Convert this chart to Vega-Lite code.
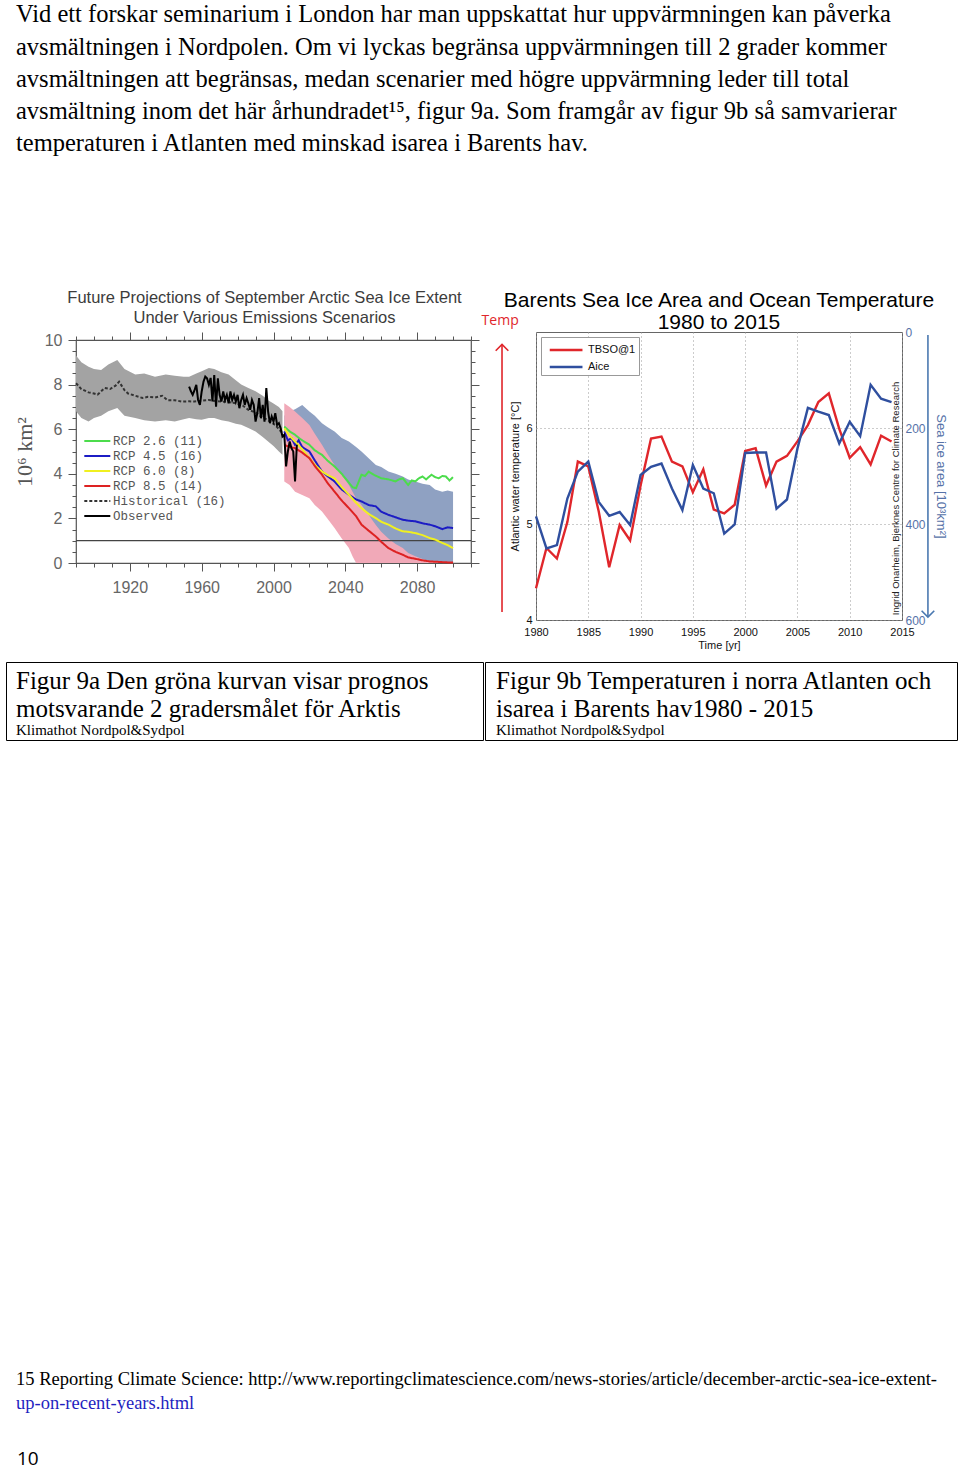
{
  "$schema": "https://vega.github.io/schema/vega-lite/v6.json",
  "background": "white",
  "padding": {"left": 5, "top": 2, "right": 0, "bottom": 0},
  "spacing": 10,
  "config": {"view": {"stroke": null}, "font": "Liberation Sans", "title": {"fontWeight": "normal"}},
  "datasets": {
    "bandHist": [
      {"year":1890,"lo":6.8,"hi":9.3},{"year":1893,"lo":6.5,"hi":9.0},{"year":1897,"lo":6.35,"hi":8.8},{"year":1900,"lo":6.5,"hi":8.7},{"year":1904,"lo":6.6,"hi":8.65},{"year":1908,"lo":6.8,"hi":8.9},{"year":1913,"lo":6.95,"hi":9.1},{"year":1917,"lo":6.6,"hi":8.7},{"year":1923,"lo":6.5,"hi":8.45},{"year":1928,"lo":6.4,"hi":8.5},{"year":1934,"lo":6.35,"hi":8.35},{"year":1940,"lo":6.4,"hi":8.45},{"year":1945,"lo":6.35,"hi":8.4},{"year":1950,"lo":6.45,"hi":8.35},{"year":1953,"lo":6.5,"hi":8.35},{"year":1957,"lo":6.45,"hi":8.5},{"year":1960,"lo":6.42,"hi":8.6},{"year":1964,"lo":6.5,"hi":8.75},{"year":1967,"lo":6.5,"hi":8.7},{"year":1971,"lo":6.4,"hi":8.55},{"year":1975,"lo":6.35,"hi":8.45},{"year":1979,"lo":6.25,"hi":8.2},{"year":1982,"lo":6.2,"hi":8.0},{"year":1986,"lo":6.05,"hi":7.85},{"year":1990,"lo":5.9,"hi":7.7},{"year":1994,"lo":5.65,"hi":7.5},{"year":1997,"lo":5.45,"hi":7.3},{"year":2000,"lo":5.25,"hi":7.15},{"year":2003,"lo":5.0,"hi":7.0},{"year":2005,"lo":4.85,"hi":6.8}
    ],
    "bandRcp45": [
      {"year":2006,"lo":5.0,"hi":6.6},{"year":2009,"lo":5.1,"hi":6.8},{"year":2012,"lo":5.2,"hi":6.9},{"year":2016,"lo":5.45,"hi":7.09},{"year":2020,"lo":5.1,"hi":6.79},{"year":2023,"lo":4.8,"hi":6.6},{"year":2027,"lo":4.4,"hi":6.27},{"year":2030,"lo":3.95,"hi":6.1},{"year":2034,"lo":3.5,"hi":5.9},{"year":2038,"lo":3.1,"hi":5.6},{"year":2042,"lo":2.76,"hi":5.45},{"year":2046,"lo":2.4,"hi":5.2},{"year":2049,"lo":2.0,"hi":5.0},{"year":2053,"lo":1.6,"hi":4.7},{"year":2057,"lo":1.27,"hi":4.4},{"year":2060,"lo":0.95,"hi":4.3},{"year":2064,"lo":0.67,"hi":4.1},{"year":2068,"lo":0.45,"hi":4.0},{"year":2072,"lo":0.22,"hi":3.88},{"year":2075,"lo":0.1,"hi":3.75},{"year":2079,"lo":0,"hi":3.66},{"year":2083,"lo":0,"hi":3.55},{"year":2087,"lo":0,"hi":3.5},{"year":2090,"lo":0,"hi":3.3},{"year":2094,"lo":0,"hi":3.2},{"year":2097,"lo":0,"hi":3.25},{"year":2100,"lo":0,"hi":3.2}
    ],
    "bandRcp85": [
      {"year":2006,"lo":3.66,"hi":7.16},{"year":2009,"lo":3.5,"hi":7.0},{"year":2012,"lo":3.2,"hi":6.79},{"year":2016,"lo":3.05,"hi":6.5},{"year":2020,"lo":2.9,"hi":6.19},{"year":2023,"lo":2.6,"hi":5.8},{"year":2027,"lo":2.31,"hi":5.3},{"year":2030,"lo":2.0,"hi":4.9},{"year":2034,"lo":1.57,"hi":4.4},{"year":2038,"lo":1.1,"hi":3.95},{"year":2042,"lo":0.67,"hi":3.5},{"year":2044,"lo":0.3,"hi":3.2},{"year":2046,"lo":0,"hi":2.9},{"year":2049,"lo":0,"hi":2.6},{"year":2053,"lo":0,"hi":2.15},{"year":2057,"lo":0,"hi":1.7},{"year":2060,"lo":0,"hi":1.4},{"year":2064,"lo":0,"hi":1.1},{"year":2068,"lo":0,"hi":0.85},{"year":2072,"lo":0,"hi":0.67},{"year":2075,"lo":0,"hi":0.45},{"year":2079,"lo":0,"hi":0.3},{"year":2083,"lo":0,"hi":0.18},{"year":2087,"lo":0,"hi":0.07},{"year":2092,"lo":0,"hi":0.03},{"year":2100,"lo":0,"hi":0.0}
    ],
    "iceLines": [
      {"series":"Historical (16)","year":1890,"value":8.06},{"series":"Historical (16)","year":1893,"value":7.8},{"series":"Historical (16)","year":1897,"value":7.65},{"series":"Historical (16)","year":1900,"value":7.6},{"series":"Historical (16)","year":1902,"value":7.55},{"series":"Historical (16)","year":1906,"value":7.85},{"series":"Historical (16)","year":1909,"value":7.8},{"series":"Historical (16)","year":1912,"value":7.95},{"series":"Historical (16)","year":1914,"value":8.13},{"series":"Historical (16)","year":1917,"value":7.75},{"series":"Historical (16)","year":1919,"value":7.6},{"series":"Historical (16)","year":1923,"value":7.5},{"series":"Historical (16)","year":1927,"value":7.4},{"series":"Historical (16)","year":1930,"value":7.45},{"series":"Historical (16)","year":1934,"value":7.42},{"series":"Historical (16)","year":1938,"value":7.5},{"series":"Historical (16)","year":1941,"value":7.3},{"series":"Historical (16)","year":1945,"value":7.3},{"series":"Historical (16)","year":1949,"value":7.24},{"series":"Historical (16)","year":1953,"value":7.25},{"series":"Historical (16)","year":1956,"value":7.24},{"series":"Historical (16)","year":1960,"value":7.28},{"series":"Historical (16)","year":1964,"value":7.31},{"series":"Historical (16)","year":1968,"value":7.26},{"series":"Historical (16)","year":1971,"value":7.24},{"series":"Historical (16)","year":1975,"value":7.22},{"series":"Historical (16)","year":1979,"value":7.16},{"series":"Historical (16)","year":1983,"value":7.05},{"series":"Historical (16)","year":1986,"value":6.87},{"series":"Historical (16)","year":1990,"value":6.75},{"series":"Historical (16)","year":1993,"value":6.57},{"series":"Historical (16)","year":1997,"value":6.4},{"series":"Historical (16)","year":2001,"value":6.19},{"series":"Historical (16)","year":2005,"value":5.82},
      {"series":"RCP 2.6 (11)","year":2006,"value":6.12},{"series":"RCP 2.6 (11)","year":2009,"value":5.9},{"series":"RCP 2.6 (11)","year":2012,"value":5.75},{"series":"RCP 2.6 (11)","year":2015,"value":5.55},{"series":"RCP 2.6 (11)","year":2018,"value":5.4},{"series":"RCP 2.6 (11)","year":2020,"value":5.3},{"series":"RCP 2.6 (11)","year":2023,"value":5.05},{"series":"RCP 2.6 (11)","year":2027,"value":4.85},{"series":"RCP 2.6 (11)","year":2030,"value":4.6},{"series":"RCP 2.6 (11)","year":2034,"value":4.33},{"series":"RCP 2.6 (11)","year":2038,"value":4.0},{"series":"RCP 2.6 (11)","year":2042,"value":3.6},{"series":"RCP 2.6 (11)","year":2044,"value":3.4},{"series":"RCP 2.6 (11)","year":2046,"value":3.36},{"series":"RCP 2.6 (11)","year":2049,"value":3.96},{"series":"RCP 2.6 (11)","year":2051,"value":3.9},{"series":"RCP 2.6 (11)","year":2053,"value":4.1},{"series":"RCP 2.6 (11)","year":2056,"value":3.95},{"series":"RCP 2.6 (11)","year":2060,"value":3.8},{"series":"RCP 2.6 (11)","year":2064,"value":3.75},{"series":"RCP 2.6 (11)","year":2068,"value":3.66},{"series":"RCP 2.6 (11)","year":2070,"value":3.75},{"series":"RCP 2.6 (11)","year":2072,"value":3.8},{"series":"RCP 2.6 (11)","year":2075,"value":3.5},{"series":"RCP 2.6 (11)","year":2077,"value":3.7},{"series":"RCP 2.6 (11)","year":2079,"value":3.66},{"series":"RCP 2.6 (11)","year":2081,"value":3.8},{"series":"RCP 2.6 (11)","year":2083,"value":3.88},{"series":"RCP 2.6 (11)","year":2085,"value":3.75},{"series":"RCP 2.6 (11)","year":2088,"value":3.96},{"series":"RCP 2.6 (11)","year":2090,"value":3.85},{"series":"RCP 2.6 (11)","year":2092,"value":3.8},{"series":"RCP 2.6 (11)","year":2094,"value":3.9},{"series":"RCP 2.6 (11)","year":2096,"value":3.88},{"series":"RCP 2.6 (11)","year":2098,"value":3.7},{"series":"RCP 2.6 (11)","year":2100,"value":3.85},
      {"series":"RCP 4.5 (16)","year":2006,"value":5.9},{"series":"RCP 4.5 (16)","year":2008,"value":5.5},{"series":"RCP 4.5 (16)","year":2010,"value":5.6},{"series":"RCP 4.5 (16)","year":2012,"value":5.3},{"series":"RCP 4.5 (16)","year":2014,"value":5.5},{"series":"RCP 4.5 (16)","year":2016,"value":5.2},{"series":"RCP 4.5 (16)","year":2020,"value":5.0},{"series":"RCP 4.5 (16)","year":2023,"value":4.6},{"series":"RCP 4.5 (16)","year":2027,"value":4.1},{"series":"RCP 4.5 (16)","year":2030,"value":3.9},{"series":"RCP 4.5 (16)","year":2034,"value":3.66},{"series":"RCP 4.5 (16)","year":2038,"value":3.3},{"series":"RCP 4.5 (16)","year":2042,"value":3.06},{"series":"RCP 4.5 (16)","year":2046,"value":2.85},{"series":"RCP 4.5 (16)","year":2049,"value":2.76},{"series":"RCP 4.5 (16)","year":2053,"value":2.6},{"series":"RCP 4.5 (16)","year":2057,"value":2.54},{"series":"RCP 4.5 (16)","year":2060,"value":2.3},{"series":"RCP 4.5 (16)","year":2064,"value":2.16},{"series":"RCP 4.5 (16)","year":2068,"value":2.05},{"series":"RCP 4.5 (16)","year":2072,"value":1.94},{"series":"RCP 4.5 (16)","year":2075,"value":1.9},{"series":"RCP 4.5 (16)","year":2079,"value":1.87},{"series":"RCP 4.5 (16)","year":2083,"value":1.78},{"series":"RCP 4.5 (16)","year":2087,"value":1.72},{"series":"RCP 4.5 (16)","year":2090,"value":1.65},{"series":"RCP 4.5 (16)","year":2094,"value":1.52},{"series":"RCP 4.5 (16)","year":2097,"value":1.6},{"series":"RCP 4.5 (16)","year":2100,"value":1.57},
      {"series":"RCP 6.0 (8)","year":2006,"value":6.04},{"series":"RCP 6.0 (8)","year":2009,"value":5.7},{"series":"RCP 6.0 (8)","year":2012,"value":5.45},{"series":"RCP 6.0 (8)","year":2016,"value":5.1},{"series":"RCP 6.0 (8)","year":2020,"value":4.7},{"series":"RCP 6.0 (8)","year":2023,"value":4.4},{"series":"RCP 6.0 (8)","year":2027,"value":4.1},{"series":"RCP 6.0 (8)","year":2030,"value":3.95},{"series":"RCP 6.0 (8)","year":2034,"value":3.8},{"series":"RCP 6.0 (8)","year":2038,"value":3.4},{"series":"RCP 6.0 (8)","year":2042,"value":3.06},{"series":"RCP 6.0 (8)","year":2046,"value":2.7},{"series":"RCP 6.0 (8)","year":2049,"value":2.46},{"series":"RCP 6.0 (8)","year":2053,"value":2.2},{"series":"RCP 6.0 (8)","year":2057,"value":2.01},{"series":"RCP 6.0 (8)","year":2060,"value":1.85},{"series":"RCP 6.0 (8)","year":2064,"value":1.72},{"series":"RCP 6.0 (8)","year":2068,"value":1.55},{"series":"RCP 6.0 (8)","year":2072,"value":1.42},{"series":"RCP 6.0 (8)","year":2075,"value":1.4},{"series":"RCP 6.0 (8)","year":2079,"value":1.34},{"series":"RCP 6.0 (8)","year":2083,"value":1.25},{"series":"RCP 6.0 (8)","year":2087,"value":1.12},{"series":"RCP 6.0 (8)","year":2090,"value":1.05},{"series":"RCP 6.0 (8)","year":2094,"value":0.9},{"series":"RCP 6.0 (8)","year":2097,"value":0.8},{"series":"RCP 6.0 (8)","year":2100,"value":0.67},
      {"series":"RCP 8.5 (14)","year":2006,"value":5.3},{"series":"RCP 8.5 (14)","year":2009,"value":5.2},{"series":"RCP 8.5 (14)","year":2012,"value":5.15},{"series":"RCP 8.5 (14)","year":2016,"value":4.95},{"series":"RCP 8.5 (14)","year":2020,"value":4.7},{"series":"RCP 8.5 (14)","year":2023,"value":4.35},{"series":"RCP 8.5 (14)","year":2027,"value":3.96},{"series":"RCP 8.5 (14)","year":2030,"value":3.6},{"series":"RCP 8.5 (14)","year":2034,"value":3.2},{"series":"RCP 8.5 (14)","year":2038,"value":2.8},{"series":"RCP 8.5 (14)","year":2042,"value":2.46},{"series":"RCP 8.5 (14)","year":2046,"value":2.1},{"series":"RCP 8.5 (14)","year":2049,"value":1.72},{"series":"RCP 8.5 (14)","year":2053,"value":1.45},{"series":"RCP 8.5 (14)","year":2057,"value":1.19},{"series":"RCP 8.5 (14)","year":2060,"value":0.95},{"series":"RCP 8.5 (14)","year":2064,"value":0.67},{"series":"RCP 8.5 (14)","year":2068,"value":0.5},{"series":"RCP 8.5 (14)","year":2072,"value":0.37},{"series":"RCP 8.5 (14)","year":2075,"value":0.25},{"series":"RCP 8.5 (14)","year":2079,"value":0.19},{"series":"RCP 8.5 (14)","year":2083,"value":0.12},{"series":"RCP 8.5 (14)","year":2087,"value":0.07},{"series":"RCP 8.5 (14)","year":2092,"value":0.05},{"series":"RCP 8.5 (14)","year":2096,"value":0.03},{"series":"RCP 8.5 (14)","year":2100,"value":0.02}
    ],
    "observed": [
      {"series":"Observed","year":1953,"value":7.91},{"series":"Observed","year":1954,"value":7.7},{"series":"Observed","year":1955,"value":7.54},{"series":"Observed","year":1956,"value":7.75},{"series":"Observed","year":1957,"value":7.99},{"series":"Observed","year":1958,"value":7.31},{"series":"Observed","year":1959,"value":7.09},{"series":"Observed","year":1960,"value":7.69},{"series":"Observed","year":1961,"value":8.13},{"series":"Observed","year":1962,"value":8.36},{"series":"Observed","year":1963,"value":8.28},{"series":"Observed","year":1964,"value":7.99},{"series":"Observed","year":1965,"value":8.3},{"series":"Observed","year":1966,"value":7.24},{"series":"Observed","year":1967,"value":8.43},{"series":"Observed","year":1968,"value":7.01},{"series":"Observed","year":1969,"value":8.28},{"series":"Observed","year":1970,"value":7.54},{"series":"Observed","year":1971,"value":7.24},{"series":"Observed","year":1972,"value":7.69},{"series":"Observed","year":1973,"value":7.31},{"series":"Observed","year":1974,"value":7.54},{"series":"Observed","year":1975,"value":7.16},{"series":"Observed","year":1976,"value":7.69},{"series":"Observed","year":1977,"value":7.31},{"series":"Observed","year":1978,"value":7.54},{"series":"Observed","year":1979,"value":7.24},{"series":"Observed","year":1980,"value":7.54},{"series":"Observed","year":1981,"value":6.94},{"series":"Observed","year":1982,"value":7.31},{"series":"Observed","year":1983,"value":7.54},{"series":"Observed","year":1984,"value":7.09},{"series":"Observed","year":1985,"value":7.39},{"series":"Observed","year":1986,"value":7.16},{"series":"Observed","year":1987,"value":6.87},{"series":"Observed","year":1988,"value":7.31},{"series":"Observed","year":1989,"value":7.09},{"series":"Observed","year":1990,"value":6.34},{"series":"Observed","year":1991,"value":6.72},{"series":"Observed","year":1992,"value":7.39},{"series":"Observed","year":1993,"value":6.49},{"series":"Observed","year":1994,"value":7.09},{"series":"Observed","year":1995,"value":6.34},{"series":"Observed","year":1996,"value":7.84},{"series":"Observed","year":1997,"value":6.79},{"series":"Observed","year":1998,"value":6.27},{"series":"Observed","year":1999,"value":6.57},{"series":"Observed","year":2000,"value":6.34},{"series":"Observed","year":2001,"value":6.72},{"series":"Observed","year":2002,"value":6.19},{"series":"Observed","year":2003,"value":6.27},{"series":"Observed","year":2004,"value":6.04},{"series":"Observed","year":2005,"value":5.67},{"series":"Observed","year":2006,"value":5.75},{"series":"Observed","year":2007,"value":4.33},{"series":"Observed","year":2008,"value":5.0},{"series":"Observed","year":2009,"value":5.45},{"series":"Observed","year":2010,"value":5.15},{"series":"Observed","year":2011,"value":5.0},{"series":"Observed","year":2012,"value":3.66},{"series":"Observed","year":2013,"value":5.3}
    ],
    "barents": [
      {"year":1980,"temp":4.33,"ice":384},{"year":1981,"temp":4.75,"ice":451},{"year":1982,"temp":4.64,"ice":444},{"year":1983,"temp":5.02,"ice":347},{"year":1984,"temp":5.65,"ice":291},{"year":1985,"temp":5.6,"ice":270},{"year":1986,"temp":5.13,"ice":354},{"year":1987,"temp":4.55,"ice":383},{"year":1988,"temp":4.99,"ice":375},{"year":1989,"temp":4.83,"ice":402},{"year":1990,"temp":5.4,"ice":298},{"year":1991,"temp":5.89,"ice":281},{"year":1992,"temp":5.91,"ice":274},{"year":1993,"temp":5.65,"ice":326},{"year":1994,"temp":5.6,"ice":371},{"year":1995,"temp":5.33,"ice":277},{"year":1996,"temp":5.57,"ice":326},{"year":1997,"temp":5.15,"ice":336},{"year":1998,"temp":5.11,"ice":420},{"year":1999,"temp":5.2,"ice":401},{"year":2000,"temp":5.76,"ice":252},{"year":2001,"temp":5.79,"ice":251},{"year":2002,"temp":5.4,"ice":251},{"year":2003,"temp":5.65,"ice":368},{"year":2004,"temp":5.71,"ice":349},{"year":2005,"temp":5.86,"ice":243},{"year":2006,"temp":6.03,"ice":158},{"year":2007,"temp":6.27,"ice":166},{"year":2008,"temp":6.36,"ice":173},{"year":2009,"temp":5.99,"ice":232},{"year":2010,"temp":5.69,"ice":187},{"year":2011,"temp":5.8,"ice":217},{"year":2012,"temp":5.62,"ice":110},{"year":2013,"temp":5.92,"ice":139},{"year":2014,"temp":5.86,"ice":146}
    ]
  },
  "vconcat": [
    {
      "width": 930,
      "height": 121,
      "data": {"values": []},
      "mark": {"type": "text", "text": ""},
      "encoding": {},
      "title": {
        "text": [
          "Vid ett forskar seminarium i London har man uppskattat hur uppvärmningen kan påverka",
          "avsmältningen i Nordpolen. Om vi lyckas begränsa uppvärmningen till 2 grader kommer",
          "avsmältningen att begränsas, medan scenarier med högre uppvärmning leder till total",
          "avsmältning inom det här århundradet¹⁵, figur 9a. Som framgår av figur 9b så samvarierar",
          "temperaturen i Atlanten med minskad isarea i Barents hav."
        ],
        "anchor": "start", "frame": "group", "dx": 10, "offset": 0,
        "font": "Liberation Serif", "fontSize": 24.5, "fontWeight": "normal", "color": "#000000", "lineHeight": 32.3
      }
    },
    {
      "hconcat": [
        {"width": 6, "height": 1, "data": {"values": []}, "mark": {"type": "text", "text": ""}, "encoding": {}},
        {
          "vconcat": [
            {"width": 1, "height": 1, "data": {"values": []}, "mark": {"type": "text", "text": ""}, "encoding": {}},
            {
              "width": 395,
              "height": 223,
              "view": {"stroke": "#555555", "strokeWidth": 1.2},
              "title": {
                "text": ["Future Projections of September Arctic Sea Ice Extent", "Under Various Emissions Scenarios"],
                "font": "Liberation Sans", "fontSize": 16.5, "fontWeight": "normal", "color": "#3c3c3c",
                "lineHeight": 20, "offset": 5, "anchor": "middle", "dx": -9
              },
              "layer": [
                {
                  "data": {"name": "bandHist"},
                  "mark": {"type": "area", "color": "#a3a3a3", "opacity": 1},
                  "encoding": {
                    "x": {"field": "year", "type": "quantitative", "scale": {"domain": [1890, 2110], "nice": false, "zero": false},
                      "axis": {"orient": "bottom", "values": [1890,1900,1910,1920,1930,1940,1950,1960,1970,1980,1990,2000,2010,2020,2030,2040,2050,2060,2070,2080,2090,2100,2110],
                        "format": "d", "labelExpr": "datum.value % 40 === 0 ? datum.label : ''",
                        "tickSize": {"condition": {"test": "datum.value % 40 === 0", "value": 8}, "value": 4},
                        "tickColor": "#555555", "domain": false, "grid": false, "labelFont": "Liberation Sans", "labelFontSize": 16,
                        "labelColor": "#666666", "labelPadding": 8, "title": null, "labelFlush": false, "labelOverlap": false}},
                    "y": {"field": "lo", "type": "quantitative", "scale": {"domain": [0, 10], "nice": false, "zero": false},
                      "axis": {"orient": "left", "values": [0,0.5,1,1.5,2,2.5,3,3.5,4,4.5,5,5.5,6,6.5,7,7.5,8,8.5,9,9.5,10],
                        "labelExpr": "datum.value % 2 === 0 ? format(datum.value, 'd') : ''",
                        "tickSize": {"condition": {"test": "datum.value % 2 === 0", "value": 8}, "value": 4},
                        "tickColor": "#555555", "domain": false, "grid": false, "labelFont": "Liberation Sans", "labelFontSize": 16,
                        "labelColor": "#666666", "labelPadding": 6, "labelOverlap": false,
                        "title": "10⁶ km²", "titleFont": "Liberation Serif", "titleFontSize": 22, "titleColor": "#555555",
                        "titleFontWeight": "normal", "titlePadding": 8}},
                    "y2": {"field": "hi"}
                  }
                },
                {
                  "data": {"name": "bandRcp45"},
                  "mark": {"type": "area", "color": "#8fa1c2", "opacity": 1},
                  "encoding": {
                    "x": {"field": "year", "type": "quantitative",
                      "axis": {"orient": "top", "values": [1890,1900,1910,1920,1930,1940,1950,1960,1970,1980,1990,2000,2010,2020,2030,2040,2050,2060,2070,2080,2090,2100,2110],
                        "labels": false, "tickSize": {"condition": {"test": "datum.value % 40 === 0", "value": 8}, "value": 4},
                        "tickColor": "#555555", "domain": false, "grid": false, "title": null}},
                    "y": {"field": "lo", "type": "quantitative",
                      "axis": {"orient": "right", "values": [0,0.5,1,1.5,2,2.5,3,3.5,4,4.5,5,5.5,6,6.5,7,7.5,8,8.5,9,9.5,10],
                        "labels": false, "tickSize": {"condition": {"test": "datum.value % 2 === 0", "value": 8}, "value": 4},
                        "tickColor": "#555555", "domain": false, "grid": false, "title": null}},
                    "y2": {"field": "hi"}
                  }
                },
                {
                  "data": {"name": "bandRcp85"},
                  "mark": {"type": "area", "color": "#f1a9b8", "opacity": 1},
                  "encoding": {
                    "x": {"field": "year", "type": "quantitative", "axis": null},
                    "y": {"field": "lo", "type": "quantitative", "axis": null},
                    "y2": {"field": "hi"}
                  }
                },
                {
                  "data": {"values": [{}]},
                  "mark": {"type": "rule", "color": "#444444", "strokeWidth": 1.2},
                  "encoding": {"y": {"datum": 1, "type": "quantitative", "axis": null}}
                },
                {
                  "data": {"name": "iceLines"},
                  "mark": {"type": "line"},
                  "encoding": {
                    "x": {"field": "year", "type": "quantitative", "axis": null},
                    "y": {"field": "value", "type": "quantitative", "axis": null},
                    "color": {"field": "series", "type": "nominal",
                      "scale": {"domain": ["RCP 2.6 (11)", "RCP 4.5 (16)", "RCP 6.0 (8)", "RCP 8.5 (14)", "Historical (16)", "Observed"],
                        "range": ["#4cdc4c", "#1c1cc4", "#f0f020", "#dd2222", "#333333", "#000000"]},
                      "legend": {"orient": "none", "legendX": 5, "legendY": 93, "title": null, "symbolType": "M-0.7,0H3.18",
                        "symbolSize": 180, "labelOffset": 16, "labelFont": "Liberation Mono", "labelFontSize": 12.5,
                        "labelColor": "#555555", "rowPadding": 0, "padding": 0}},
                    "strokeDash": {"field": "series", "type": "nominal",
                      "scale": {"domain": ["RCP 2.6 (11)", "RCP 4.5 (16)", "RCP 6.0 (8)", "RCP 8.5 (14)", "Historical (16)", "Observed"],
                        "range": [[1,0],[1,0],[1,0],[1,0],[3,2],[1,0]]}},
                    "strokeWidth": {"field": "series", "type": "nominal",
                      "scale": {"domain": ["RCP 2.6 (11)", "RCP 4.5 (16)", "RCP 6.0 (8)", "RCP 8.5 (14)", "Historical (16)", "Observed"],
                        "range": [2, 2, 2.2, 1.8, 1.2, 3]}}
                  }
                },
                {
                  "data": {"name": "observed"},
                  "mark": {"type": "line"},
                  "encoding": {
                    "x": {"field": "year", "type": "quantitative", "axis": null},
                    "y": {"field": "value", "type": "quantitative", "axis": null},
                    "color": {"field": "series", "type": "nominal"},
                    "strokeDash": {"field": "series", "type": "nominal"},
                    "strokeWidth": {"field": "series", "type": "nominal"}
                  }
                }
              ],
              "resolve": {"axis": {"x": "independent", "y": "independent"}}
            }
          ],
          "spacing": 0,
          "resolve": {"scale": {"color": "independent", "strokeDash": "independent", "strokeWidth": "independent"}}
        },
        {
          "vconcat": [
            {"width": 1, "height": 1, "data": {"values": []}, "mark": {"type": "text", "text": ""}, "encoding": {}},
            {
              "width": 366,
              "height": 288,
              "view": {"stroke": "#666666"},
              "title": {
                "text": ["Barents Sea Ice Area and Ocean Temperature", "1980 to 2015"],
                "font": "Liberation Sans", "fontSize": 21, "fontWeight": "normal", "color": "#000000",
                "lineHeight": 21.5, "offset": -19, "anchor": "middle"
              },
              "layer": [
                {
                  "layer": [
                    {
                      "data": {"name": "barents"},
                      "mark": {"type": "line", "strokeWidth": 2.4},
                      "encoding": {
                        "x": {"field": "year", "type": "quantitative", "scale": {"domain": [1980, 2015], "nice": false, "zero": false},
                          "axis": {"values": [1980,1985,1990,1995,2000,2005,2010,2015], "format": "d", "title": "Time [yr]",
                            "titleFontSize": 11, "titleFontWeight": "normal", "titleColor": "#111111", "titlePadding": 2,
                            "labelFontSize": 11, "labelColor": "#111111", "labelPadding": 6, "ticks": false, "domain": false,
                            "grid": true, "gridDash": [1,3], "gridColor": "#999999", "labelFlush": false, "labelOverlap": false}},
                        "y": {"field": "temp", "type": "quantitative", "scale": {"domain": [4, 7], "nice": false, "zero": false},
                          "axis": {"orient": "left", "values": [4,5,6], "format": "d", "title": "Atlantic water temperature [°C]",
                            "titleFontSize": 11, "titleFontWeight": "normal", "titleColor": "#111111", "titlePadding": 5,
                            "labelFontSize": 11, "labelColor": "#111111", "labelPadding": 4, "ticks": false, "domain": false,
                            "grid": true, "gridDash": [1,3], "gridColor": "#999999"}},
                        "color": {"datum": "TBSO@1", "type": "nominal",
                          "scale": {"domain": ["TBSO@1", "Aice"], "range": ["#e0262b", "#2f4f9f"]},
                          "legend": {"orient": "top-left", "offset": 5, "title": null, "fillColor": "white", "strokeColor": "#999999",
                            "padding": 3, "symbolType": "M-0.5,0H3.35", "symbolSize": 289, "symbolStrokeWidth": 2.5,
                            "labelOffset": 24, "labelFont": "Liberation Sans", "labelFontSize": 11, "labelColor": "#111111", "rowPadding": 2}}
                      }
                    },
                    {
                      "data": {"values": [{}]},
                      "mark": {"type": "rule", "color": "#e0262b", "strokeWidth": 1.6},
                      "encoding": {
                        "x": {"datum": 1976.75, "type": "quantitative"},
                        "y": {"datum": 4.083, "type": "quantitative"},
                        "y2": {"datum": 6.87}
                      }
                    },
                    {
                      "data": {"values": [{}]},
                      "mark": {"type": "point", "shape": "M-1,1L0,0L1,1", "filled": false, "color": "#e0262b", "strokeWidth": 1.6, "size": 160, "opacity": 1},
                      "encoding": {
                        "x": {"datum": 1976.75, "type": "quantitative"},
                        "y": {"datum": 6.87, "type": "quantitative"}
                      }
                    },
                    {
                      "data": {"values": [{}]},
                      "mark": {"type": "text", "text": "Temp", "align": "left", "baseline": "middle", "font": "Open Sans", "fontSize": 14, "color": "#e0262b"},
                      "encoding": {
                        "x": {"datum": 1974.8, "type": "quantitative"},
                        "y": {"datum": 7.115, "type": "quantitative"}
                      }
                    },
                    {
                      "data": {"values": [{}]},
                      "mark": {"type": "text", "text": "Ingrid Onarheim, Bjerknes Centre for Climate Research", "angle": 270, "align": "left", "baseline": "middle", "font": "Liberation Sans", "fontSize": 9.5, "color": "#222222"},
                      "encoding": {
                        "x": {"datum": 2014.4, "type": "quantitative"},
                        "y": {"datum": 4.05, "type": "quantitative"}
                      }
                    }
                  ]
                },
                {
                  "layer": [
                    {
                      "data": {"name": "barents"},
                      "mark": {"type": "line", "strokeWidth": 2.4},
                      "encoding": {
                        "x": {"field": "year", "type": "quantitative",
                          "axis": {"values": [1980,1985,1990,1995,2000,2005,2010,2015], "format": "d", "title": "Time [yr]",
                            "titleFontSize": 11, "titleFontWeight": "normal", "titleColor": "#111111", "titlePadding": 2,
                            "labelFontSize": 11, "labelColor": "#111111", "labelPadding": 6, "ticks": false, "domain": false,
                            "grid": true, "gridDash": [1,3], "gridColor": "#999999", "labelFlush": false, "labelOverlap": false}},
                        "y": {"field": "ice", "type": "quantitative", "scale": {"domain": [0, 600], "reverse": true, "nice": false, "zero": false},
                          "axis": {"orient": "right", "values": [0,200,400,600], "title": "Sea ice area [10³km²]",
                            "titleFontSize": 13, "titleFontWeight": "normal", "titleColor": "#5672a8", "titlePadding": 8,
                            "labelFontSize": 12, "labelColor": "#5672a8", "labelPadding": 3, "ticks": false, "domain": false, "grid": false}},
                        "color": {"datum": "Aice", "type": "nominal"}
                      }
                    },
                    {
                      "data": {"values": [{}]},
                      "mark": {"type": "rule", "color": "#4a78b0", "strokeWidth": 1.6},
                      "encoding": {
                        "x": {"datum": 2017.48, "type": "quantitative"},
                        "y": {"datum": 6, "type": "quantitative"},
                        "y2": {"datum": 594}
                      }
                    },
                    {
                      "data": {"values": [{}]},
                      "mark": {"type": "point", "shape": "M-1,-1L0,0L1,-1", "filled": false, "color": "#4a78b0", "strokeWidth": 1.6, "size": 160, "opacity": 1},
                      "encoding": {
                        "x": {"datum": 2017.48, "type": "quantitative"},
                        "y": {"datum": 594, "type": "quantitative"}
                      }
                    }
                  ]
                }
              ],
              "resolve": {"scale": {"y": "independent"}, "axis": {"y": "independent"}}
            }
          ],
          "spacing": 0,
          "resolve": {"scale": {"color": "independent"}}
        }
      ],
      "spacing": 0,
      "resolve": {"scale": {"color": "independent", "strokeDash": "independent", "strokeWidth": "independent"}}
    },
    {
      "hconcat": [
        {
          "width": 477,
          "height": 78,
          "view": {"stroke": "#000000", "strokeWidth": 1},
          "data": {"values": []},
          "mark": {"type": "text", "text": ""},
          "encoding": {},
          "title": {
            "text": ["Figur 9a Den gröna kurvan visar prognos", "motsvarande 2 gradersmålet för Arktis"],
            "subtitle": "Klimathot Nordpol&Sydpol",
            "anchor": "start", "frame": "group", "orient": "top", "offset": -76, "dx": 10,
            "font": "Liberation Serif", "fontSize": 25, "fontWeight": "normal", "lineHeight": 28, "color": "#000000",
            "subtitleFont": "Liberation Serif", "subtitleFontSize": 15, "subtitleColor": "#000000", "subtitlePadding": 1
          }
        },
        {
          "width": 472,
          "height": 78,
          "view": {"stroke": "#000000", "strokeWidth": 1},
          "data": {"values": []},
          "mark": {"type": "text", "text": ""},
          "encoding": {},
          "title": {
            "text": ["Figur 9b Temperaturen i norra Atlanten och", "isarea i Barents hav1980 - 2015"],
            "subtitle": "Klimathot Nordpol&Sydpol",
            "anchor": "start", "frame": "group", "orient": "top", "offset": -76, "dx": 11,
            "font": "Liberation Serif", "fontSize": 25, "fontWeight": "normal", "lineHeight": 28, "color": "#000000",
            "subtitleFont": "Liberation Serif", "subtitleFontSize": 15, "subtitleColor": "#000000", "subtitlePadding": 1
          }
        }
      ],
      "spacing": 0
    },
    {
      "width": 940,
      "height": 615,
      "data": {"values": []},
      "mark": {"type": "text", "text": ""},
      "encoding": {},
      "title": {
        "text": "15 Reporting Climate Science: http://www.reportingclimatescience.com/news-stories/article/december-arctic-sea-ice-extent-",
        "subtitle": "up-on-recent-years.html",
        "orient": "bottom", "anchor": "start", "frame": "group", "dx": 10, "offset": 4,
        "font": "Liberation Serif", "fontSize": 18.5, "fontWeight": "normal", "color": "#000000",
        "subtitleFont": "Liberation Serif", "subtitleFontSize": 18.5, "subtitleColor": "#1f1fbf", "subtitlePadding": 5
      }
    },
    {
      "width": 100,
      "height": 24,
      "data": {"values": []},
      "mark": {"type": "text", "text": ""},
      "encoding": {},
      "title": {
        "text": "10", "orient": "bottom", "anchor": "start", "frame": "group", "dx": 11, "offset": 4,
        "font": "Open Sans", "fontSize": 19, "fontWeight": "normal", "color": "#000000"
      }
    }
  ]
}
